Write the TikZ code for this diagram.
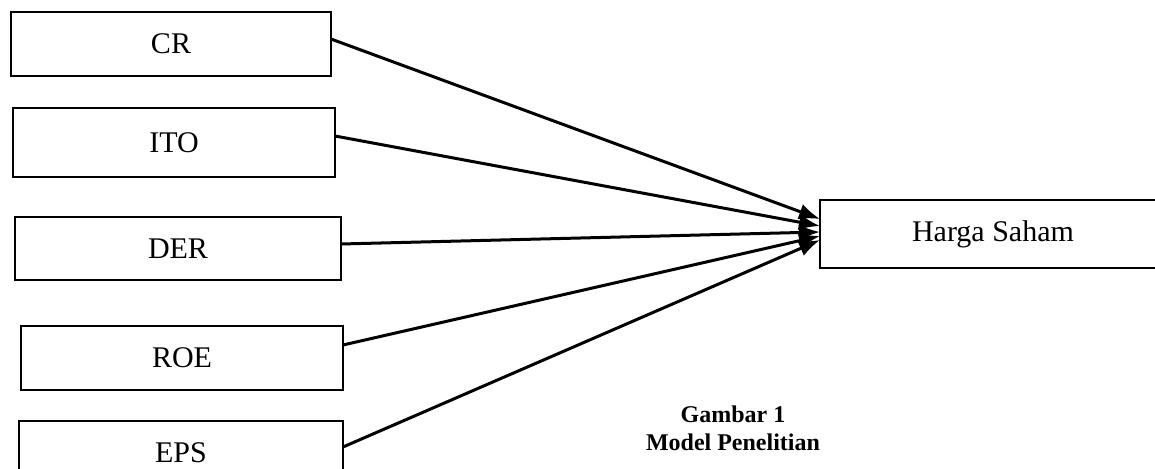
\documentclass[tikz,border=0pt]{standalone}
\usepackage{fontspec}
\setmainfont{Liberation Serif}
\usetikzlibrary{arrows.meta}
\begin{document}
\begin{tikzpicture}[x=1pt,y=-1pt,
  varbox/.style={draw=black, line width=1.8pt, fill=white, inner sep=0pt, outer sep=0pt,
    font=\fontsize{30}{35}\selectfont},
  arr/.style={line width=3pt, -{Latex[length=21pt,width=16pt]}},
  captxt/.style={font=\fontsize{24}{28}\selectfont\bfseries, align=center, inner sep=0pt}]
\useasboundingbox (0,0) rectangle (1155,468);
\node[varbox, minimum width=320pt, minimum height=64pt] (cr)  at (171,44)    {CR};
\node[varbox, minimum width=322pt, minimum height=69pt] (ito) at (174,142.5) {ITO};
\node[varbox, minimum width=326pt, minimum height=63pt] (der) at (178,248.5) {DER};
\node[varbox, minimum width=322pt, minimum height=64pt] (roe) at (182,358)   {ROE};
\node[varbox, minimum width=324pt, minimum height=64pt] (eps) at (181,453)   {EPS};
\node[varbox, minimum width=346pt, minimum height=68pt] (hs)  at (993,234)   {Harga Saham};
\draw[arr] ([yshift=5pt]cr.east)   -- ([yshift=15pt]hs.west);
\draw[arr] ([yshift=6.5pt]ito.east) -- ([yshift=8pt]hs.west);
\draw[arr] ([yshift=4.5pt]der.east) -- ([yshift=2pt]hs.west);
\draw[arr] ([yshift=13pt]roe.east) -- ([yshift=-2pt]hs.west);
\draw[arr] ([yshift=6pt]eps.east)  -- ([yshift=-6pt]hs.west);
\node[captxt] (cap) at (733,428) {Gambar 1\\Model Penelitian};
\end{tikzpicture}
\end{document}
